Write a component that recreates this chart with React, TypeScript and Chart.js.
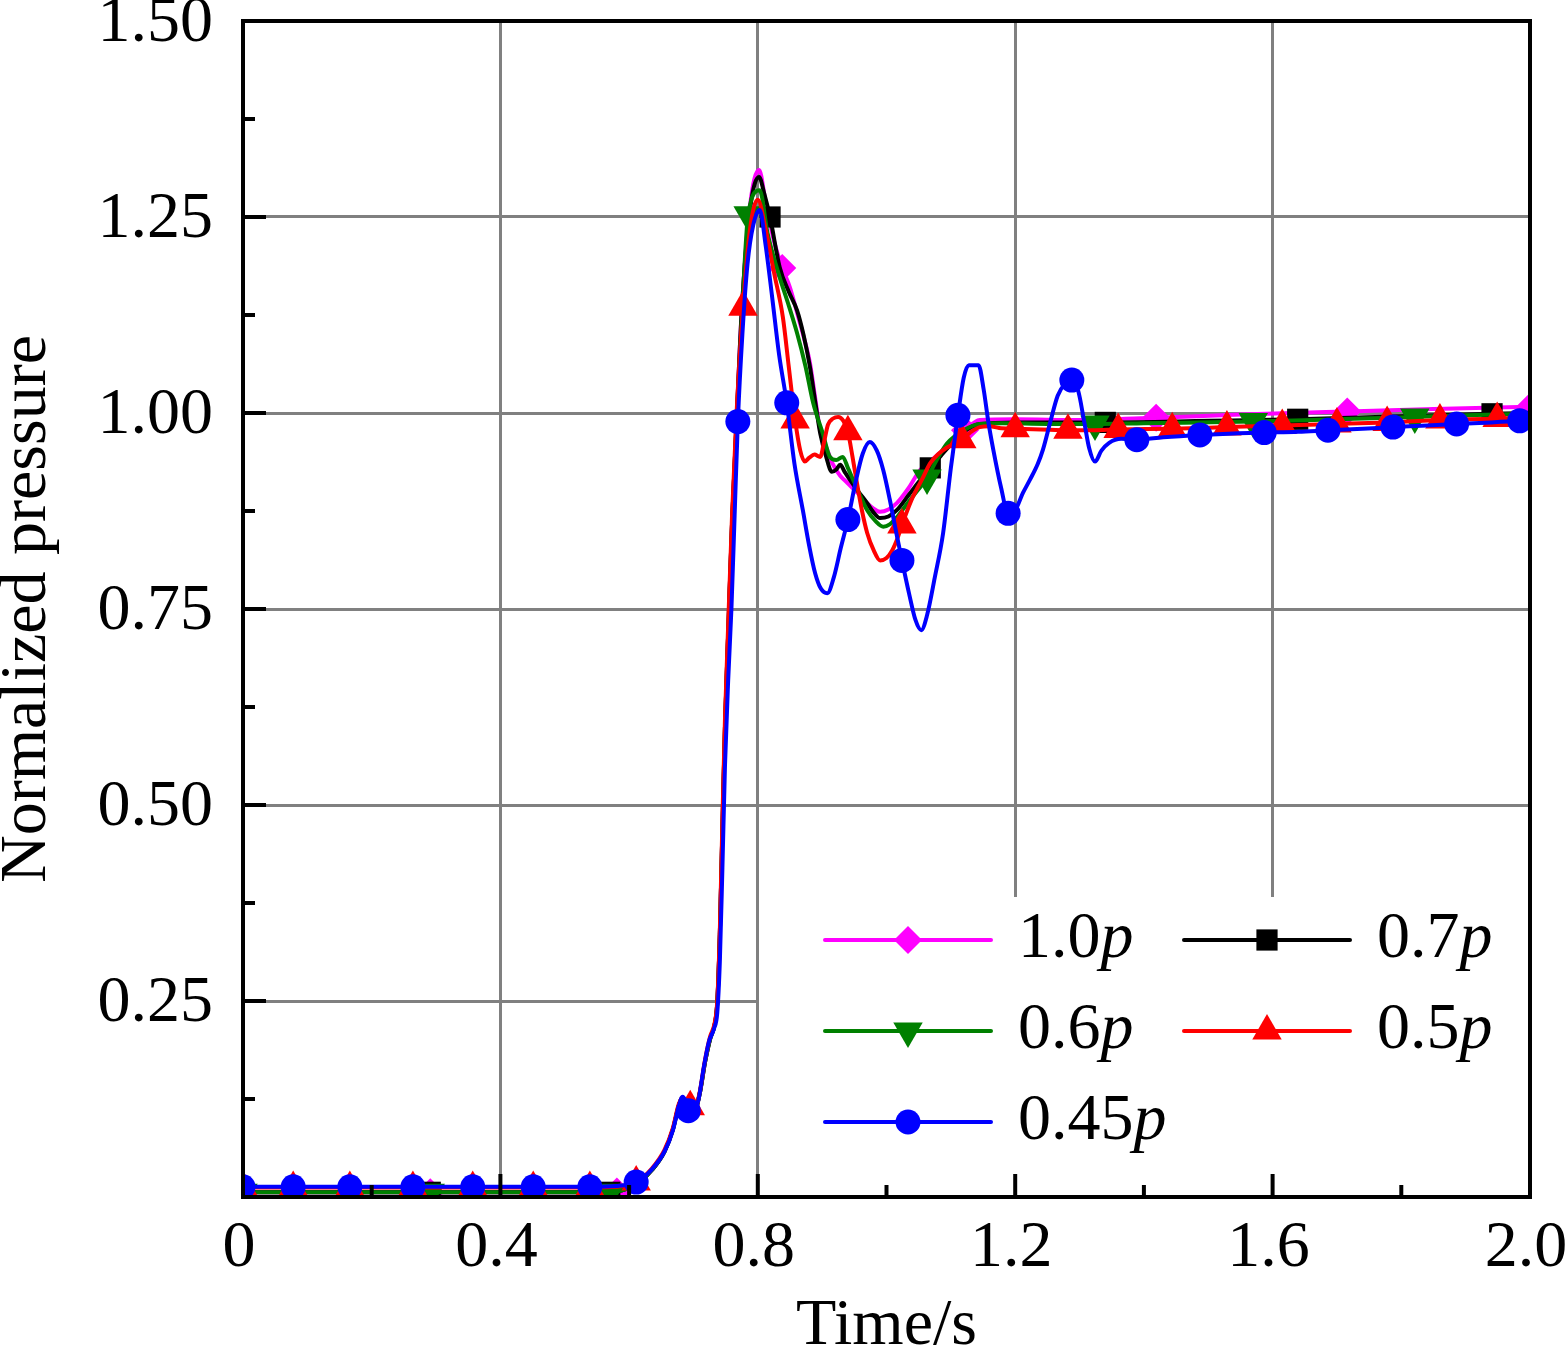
import { useEffect, useRef } from 'react';
import { Chart, registerables } from 'chart.js';

Chart.register(...registerables);

// ---------- data ----------
const xMajor = [0, 0.4, 0.8, 1.2, 1.6, 2.0];
const xMinor = [0.2, 0.6, 1.0, 1.4, 1.8];
const yMajor = [0, 0.25, 0.5, 0.75, 1.0, 1.25, 1.5];
const yMinor = [0.125, 0.375, 0.625, 0.875, 1.125, 1.375];

const labels = ['1.0p', '0.7p', '0.6p', '0.5p', '0.45p'];

const p10: [number, number][] = [
  [0, 0.006], [0.1, 0.006], [0.2, 0.006], [0.291, 0.006], [0.4, 0.006], [0.5, 0.006], [0.581, 0.007],
  [0.6, 0.011], [0.615, 0.018], [0.635, 0.034], [0.655, 0.058], [0.668, 0.086], [0.677, 0.116],
  [0.683, 0.126], [0.688, 0.121], [0.695, 0.113], [0.702, 0.111], [0.71, 0.133], [0.718, 0.172],
  [0.726, 0.202], [0.733, 0.22], [0.737, 0.248], [0.741, 0.335], [0.745, 0.47], [0.749, 0.6],
  [0.754, 0.72], [0.76, 0.86], [0.767, 0.99], [0.775, 1.13], [0.788, 1.265], [0.802, 1.31],
  [0.812, 1.27], [0.825, 1.22], [0.838, 1.185], [0.85, 1.16], [0.862, 1.125], [0.872, 1.095],
  [0.881, 1.064], [0.889, 1.02], [0.897, 0.978], [0.907, 0.955], [0.917, 0.934], [0.928, 0.92],
  [0.939, 0.911], [0.955, 0.898], [0.97, 0.885], [0.98, 0.878], [0.99, 0.874], [1.003, 0.877],
  [1.016, 0.885], [1.035, 0.905], [1.052, 0.927], [1.073, 0.942], [1.094, 0.957], [1.108, 0.966],
  [1.122, 0.978], [1.145, 0.991], [1.2, 0.992], [1.3, 0.991], [1.419, 0.994], [1.55, 0.998],
  [1.716, 1.002], [1.85, 1.005], [2.0, 1.008],
];
const m10 = [0, 0.291, 0.581, 0.838, 1.122, 1.419, 1.716, 2.0];

const p07: [number, number][] = [
  [0, 0.006], [0.1, 0.006], [0.2, 0.006], [0.291, 0.006], [0.4, 0.006], [0.5, 0.006], [0.57, 0.006],
  [0.595, 0.01], [0.615, 0.018], [0.635, 0.034], [0.655, 0.058], [0.668, 0.086], [0.677, 0.116],
  [0.683, 0.126], [0.688, 0.121], [0.695, 0.113], [0.702, 0.111], [0.71, 0.133], [0.718, 0.172],
  [0.726, 0.202], [0.733, 0.22], [0.737, 0.248], [0.741, 0.335], [0.745, 0.47], [0.749, 0.6],
  [0.754, 0.72], [0.76, 0.86], [0.767, 0.99], [0.775, 1.13], [0.788, 1.26], [0.802, 1.301],
  [0.81, 1.28], [0.819, 1.25], [0.834, 1.186], [0.848, 1.155], [0.861, 1.131], [0.871, 1.1],
  [0.881, 1.059], [0.89, 1.01], [0.897, 0.974], [0.906, 0.945], [0.915, 0.925], [0.922, 0.928],
  [0.928, 0.934], [0.935, 0.925], [0.943, 0.915], [0.956, 0.9], [0.97, 0.885], [0.98, 0.873],
  [0.99, 0.866], [1.003, 0.868], [1.016, 0.876], [1.035, 0.896], [1.05, 0.912], [1.068, 0.93],
  [1.084, 0.945], [1.099, 0.959], [1.12, 0.976], [1.145, 0.986], [1.2, 0.988], [1.27, 0.988],
  [1.34, 0.988], [1.5, 0.99], [1.639, 0.992], [1.8, 0.996], [1.941, 0.999], [2.0, 1.0],
];
const m07 = [0, 0.291, 0.57, 0.819, 1.068, 1.34, 1.639, 1.941];

const p06: [number, number][] = [
  [0, 0.006], [0.1, 0.006], [0.2, 0.006], [0.291, 0.006], [0.4, 0.006], [0.5, 0.006], [0.57, 0.006],
  [0.595, 0.01], [0.615, 0.018], [0.635, 0.034], [0.655, 0.058], [0.668, 0.086], [0.677, 0.116],
  [0.683, 0.126], [0.688, 0.121], [0.695, 0.113], [0.702, 0.111], [0.71, 0.133], [0.718, 0.172],
  [0.726, 0.202], [0.733, 0.22], [0.737, 0.248], [0.741, 0.335], [0.745, 0.47], [0.749, 0.6],
  [0.754, 0.72], [0.76, 0.86], [0.767, 0.99], [0.775, 1.12], [0.785, 1.253], [0.803, 1.284],
  [0.815, 1.23], [0.834, 1.173], [0.847, 1.14], [0.861, 1.102], [0.874, 1.06], [0.886, 1.013],
  [0.901, 0.974], [0.912, 0.944], [0.922, 0.94], [0.932, 0.944], [0.94, 0.93], [0.948, 0.915],
  [0.96, 0.893], [0.97, 0.876], [0.983, 0.862], [0.995, 0.855], [1.005, 0.858], [1.016, 0.867],
  [1.03, 0.882], [1.045, 0.898], [1.063, 0.917], [1.078, 0.94], [1.094, 0.961], [1.12, 0.978],
  [1.145, 0.986], [1.18, 0.987], [1.25, 0.986], [1.324, 0.986], [1.4, 0.987], [1.57, 0.989],
  [1.7, 0.992], [1.821, 0.995], [1.9, 0.997], [2.0, 0.999],
];
const m06 = [0, 0.291, 0.57, 0.785, 1.063, 1.324, 1.57, 1.821];

const p05: [number, number][] = [
  [0, 0.012], [0.078, 0.012], [0.166, 0.012], [0.264, 0.012], [0.357, 0.012], [0.451, 0.012],
  [0.539, 0.012], [0.58, 0.013], [0.611, 0.019], [0.635, 0.036], [0.655, 0.06], [0.668, 0.088],
  [0.677, 0.118], [0.683, 0.127], [0.688, 0.122], [0.695, 0.115], [0.702, 0.112], [0.71, 0.135],
  [0.718, 0.175], [0.726, 0.205], [0.733, 0.222], [0.737, 0.25], [0.741, 0.34], [0.745, 0.48],
  [0.749, 0.61], [0.754, 0.73], [0.76, 0.87], [0.767, 1.0], [0.777, 1.135], [0.788, 1.235],
  [0.8, 1.272], [0.812, 1.235], [0.825, 1.18], [0.839, 1.122], [0.848, 1.06], [0.858, 0.991],
  [0.866, 0.952], [0.873, 0.938], [0.88, 0.943], [0.888, 0.947], [0.897, 0.944], [0.903, 0.963],
  [0.909, 0.985], [0.917, 0.993], [0.925, 0.995], [0.933, 0.99], [0.94, 0.976], [0.947, 0.945],
  [0.954, 0.911], [0.962, 0.875], [0.97, 0.847], [0.98, 0.825], [0.99, 0.812], [1.0, 0.815],
  [1.009, 0.825], [1.017, 0.84], [1.024, 0.857], [1.032, 0.875], [1.041, 0.893], [1.055, 0.915],
  [1.068, 0.936], [1.081, 0.948], [1.094, 0.956], [1.105, 0.961], [1.117, 0.966], [1.13, 0.975],
  [1.145, 0.982], [1.16, 0.983], [1.175, 0.981], [1.2, 0.98], [1.24, 0.979], [1.282, 0.978],
  [1.32, 0.978], [1.36, 0.979], [1.444, 0.98], [1.529, 0.982], [1.615, 0.984], [1.7, 0.986],
  [1.778, 0.988], [1.86, 0.991], [1.949, 0.993], [2.0, 0.995],
];
const m05 = [0, 0.078, 0.166, 0.264, 0.357, 0.451, 0.539, 0.611, 0.695, 0.777, 0.858, 0.94, 1.024,
  1.117, 1.2, 1.282, 1.36, 1.444, 1.529, 1.615, 1.7, 1.778, 1.86, 1.949];

const p045: [number, number][] = [
  [0, 0.013], [0.078, 0.013], [0.166, 0.013], [0.264, 0.013], [0.357, 0.013], [0.451, 0.013],
  [0.539, 0.013], [0.58, 0.014], [0.611, 0.019], [0.635, 0.035], [0.655, 0.058], [0.668, 0.085],
  [0.677, 0.115], [0.683, 0.128], [0.688, 0.122], [0.692, 0.11], [0.7, 0.108], [0.708, 0.125],
  [0.716, 0.165], [0.724, 0.198], [0.732, 0.215], [0.737, 0.235], [0.741, 0.3], [0.745, 0.42],
  [0.749, 0.55], [0.754, 0.66], [0.759, 0.75], [0.764, 0.87], [0.769, 0.989], [0.776, 1.1],
  [0.784, 1.19], [0.793, 1.24], [0.803, 1.259], [0.812, 1.215], [0.822, 1.15], [0.833, 1.075],
  [0.845, 1.013], [0.857, 0.935], [0.87, 0.876], [0.88, 0.83], [0.889, 0.796], [0.898, 0.776],
  [0.908, 0.77], [0.918, 0.79], [0.929, 0.828], [0.94, 0.864], [0.952, 0.912], [0.963, 0.948],
  [0.974, 0.963], [0.985, 0.952], [0.995, 0.927], [1.005, 0.89], [1.015, 0.848], [1.024, 0.812],
  [1.035, 0.77], [1.045, 0.736], [1.054, 0.723], [1.063, 0.742], [1.075, 0.79], [1.088, 0.847],
  [1.1, 0.93], [1.111, 0.997], [1.12, 1.045], [1.128, 1.061], [1.143, 1.061], [1.151, 1.03],
  [1.158, 0.99], [1.166, 0.953], [1.178, 0.905], [1.189, 0.872], [1.2, 0.876], [1.212, 0.898],
  [1.223, 0.915], [1.235, 0.935], [1.243, 0.953], [1.255, 0.99], [1.266, 1.022], [1.277, 1.037],
  [1.288, 1.042], [1.298, 1.028], [1.307, 0.99], [1.315, 0.955], [1.324, 0.938], [1.334, 0.952],
  [1.346, 0.962], [1.365, 0.967], [1.389, 0.966], [1.43, 0.969], [1.487, 0.972], [1.54, 0.974],
  [1.587, 0.975], [1.64, 0.976], [1.686, 0.978], [1.74, 0.98], [1.787, 0.982], [1.84, 0.984],
  [1.886, 0.986], [1.94, 0.988], [1.984, 0.99], [2.0, 0.991],
];
const m045 = [0, 0.078, 0.166, 0.264, 0.357, 0.451, 0.539, 0.611, 0.692, 0.769, 0.845, 0.94, 1.024,
  1.111, 1.189, 1.288, 1.389, 1.487, 1.587, 1.686, 1.787, 1.886, 1.984];

// ---------- styles ----------
const FONT = '"Liberation Serif", "Times New Roman", serif';
const FS = 66;

type Series = {
  label: string; data: [number, number][]; marks: number[]; color: string;
  style: string; radius: number; rotation: number;
};

const series: Series[] = [
  { label: labels[0], data: p10, marks: m10, color: '#ff00ff', style: 'rectRot', radius: 14, rotation: 0 },
  { label: labels[1], data: p07, marks: m07, color: '#000000', style: 'rect', radius: 15, rotation: 0 },
  { label: labels[2], data: p06, marks: m06, color: '#008000', style: 'triangle', radius: 17, rotation: 180 },
  { label: labels[3], data: p05, marks: m05, color: '#ff0000', style: 'triangle', radius: 17, rotation: 0 },
  { label: labels[4], data: p045, marks: m045, color: '#0000ff', style: 'circle', radius: 12.5, rotation: 0 },
];

// legend grid: [series index, column, row]
const legendSlots: [number, number, number][] = [[0, 0, 0], [1, 1, 0], [2, 0, 1], [3, 1, 1], [4, 0, 2]];

function drawMarker(ctx: CanvasRenderingContext2D, s: Series, x: number, y: number) {
  const r = s.radius;
  ctx.beginPath();
  ctx.fillStyle = s.color;
  if (s.style === 'circle') {
    ctx.arc(x, y, r, 0, Math.PI * 2);
  } else if (s.style === 'rect') {
    const h = r * Math.SQRT1_2;
    ctx.rect(x - h, y - h, 2 * h, 2 * h);
  } else if (s.style === 'rectRot') {
    ctx.moveTo(x - r, y); ctx.lineTo(x, y - r); ctx.lineTo(x + r, y); ctx.lineTo(x, y + r);
    ctx.closePath();
  } else {
    let a = (s.rotation * Math.PI) / 180;
    for (let i = 0; i < 3; i++) {
      const px = x + Math.sin(a) * r, py = y - Math.cos(a) * r;
      if (i === 0) ctx.moveTo(px, py); else ctx.lineTo(px, py);
      a += (2 * Math.PI) / 3;
    }
    ctx.closePath();
  }
  ctx.fill();
}

const decorPlugin = {
  id: 'decor',
  beforeDatasetsDraw(chart: any) {
    const { ctx, chartArea: a } = chart;
    ctx.save();
    ctx.fillStyle = '#ffffff';
    ctx.fillRect(a.right - 771, a.bottom - 300, 771, 300);
    ctx.restore();
  },
  afterDatasetsDraw(chart: any) {
    const { ctx, chartArea: a, scales } = chart;
    const xs = scales.x, ys = scales.y;
    ctx.save();
    ctx.strokeStyle = '#000';
    ctx.lineWidth = 4;
    ctx.lineCap = 'butt';
    const seg = (x1: number, y1: number, x2: number, y2: number) => {
      ctx.beginPath(); ctx.moveTo(x1, y1); ctx.lineTo(x2, y2); ctx.stroke();
    };
    yMajor.forEach((v) => { const py = ys.getPixelForValue(v); seg(a.left, py, a.left + 23, py); });
    yMinor.forEach((v) => { const py = ys.getPixelForValue(v); seg(a.left, py, a.left + 12, py); });
    xMajor.forEach((v) => { const px = xs.getPixelForValue(v); seg(px, a.bottom, px, a.bottom - 23); });
    xMinor.forEach((v) => { const px = xs.getPixelForValue(v); seg(px, a.bottom, px, a.bottom - 12); });
    ctx.strokeRect(a.left, a.top, a.right - a.left, a.bottom - a.top);

    // legend
    const bx = a.right - 771, by = a.bottom - 300;
    const colX = [0, 359];
    const rowY = [43, 134, 225];
    legendSlots.forEach(([si, c, r]) => {
      const s = series[si];
      const x0 = bx + colX[c], y0 = by + rowY[r];
      ctx.strokeStyle = s.color;
      ctx.lineWidth = 4;
      ctx.lineCap = 'round';
      seg(x0 + 66, y0, x0 + 232, y0);
      drawMarker(ctx, s, x0 + 149, y0);
      const num = s.label.slice(0, -1);
      ctx.fillStyle = '#000';
      ctx.textBaseline = 'alphabetic';
      ctx.textAlign = 'left';
      ctx.font = `${FS}px ${FONT}`;
      ctx.fillText(num, x0 + 259, y0 + 17);
      const w = ctx.measureText(num).width;
      ctx.font = `italic ${FS}px ${FONT}`;
      ctx.fillText('p', x0 + 259 + w, y0 + 17);
    });
    ctx.restore();
  },
};

export default function App() {
  const ref = useRef<HTMLCanvasElement>(null);
  useEffect(() => {
    if (!ref.current) return;
    const datasets = series.map((s, i) => {
      const markSet = new Set(s.marks);
      return {
        label: s.label,
        data: s.data.map(([x, y]) => ({ x, y })),
        borderColor: s.color,
        backgroundColor: s.color,
        borderWidth: 4,
        cubicInterpolationMode: 'monotone' as const,
        pointStyle: s.style,
        pointRotation: s.rotation,
        pointBorderWidth: 0,
        pointBorderColor: s.color,
        pointBackgroundColor: s.color,
        pointRadius: (c: any) => (c.raw && markSet.has(c.raw.x) ? s.radius : 0),
        pointHoverRadius: 0,
        order: series.length - i,
      };
    });
    const chart = new Chart(ref.current, {
      type: 'line',
      data: { datasets },
      plugins: [decorPlugin],
      options: {
        animation: false,
        responsive: false,
        devicePixelRatio: 1,
        events: [],
        layout: { padding: { top: 21, right: 35, left: 0, bottom: 0 } },
        plugins: { legend: { display: false }, tooltip: { enabled: false } },
        scales: {
          x: {
            type: 'linear',
            min: 0,
            max: 2,
            afterFit: (sc: any) => {
              sc.height = 166; sc.paddingLeft = 0; sc.paddingRight = 0;
              sc.paddingTop = 0; sc.paddingBottom = 0;
            },
            afterBuildTicks: (sc: any) => { sc.ticks = xMajor.map((v) => ({ value: v })); },
            ticks: {
              autoSkip: false,
              maxRotation: 0,
              padding: 12,
              labelOffset: -4,
              color: '#000',
              font: { family: FONT, size: FS },
              callback: (v: any) => (Number(v) === 0 ? '0' : Number(v).toFixed(1)),
            },
            grid: { color: '#808080', lineWidth: 3, drawTicks: false },
            border: { display: false },
            title: {
              display: true,
              text: 'Time/s',
              color: '#000',
              font: { family: FONT, size: FS, lineHeight: 1 },
              padding: { top: 0, bottom: 3 },
            },
          },
          y: {
            type: 'linear',
            min: 0,
            max: 1.5,
            afterFit: (sc: any) => {
              sc.width = 243; sc.paddingTop = 0; sc.paddingBottom = 0;
              sc.paddingLeft = 0; sc.paddingRight = 0;
            },
            afterBuildTicks: (sc: any) => { sc.ticks = yMajor.map((v) => ({ value: v })); },
            ticks: {
              autoSkip: false,
              padding: 30,
              labelOffset: 3,
              color: '#000',
              font: { family: FONT, size: FS },
              callback: (v: any) => (Number(v) === 0 ? '' : Number(v).toFixed(2)),
            },
            grid: { color: '#808080', lineWidth: 3, drawTicks: false },
            border: { display: false },
            title: {
              display: true,
              text: 'Normalized pressure',
              color: '#000',
              font: { family: FONT, size: FS, lineHeight: 1 },
              padding: { top: -5, bottom: 0 },
            },
          },
        },
      } as any,
    });
    return () => chart.destroy();
  }, []);
  return (
    <div style={{ position: 'fixed', left: 0, top: 0, width: 1565, height: 1363, background: '#fff' }}>
      <canvas ref={ref} width={1565} height={1363} style={{ display: 'block' }} />
    </div>
  );
}
